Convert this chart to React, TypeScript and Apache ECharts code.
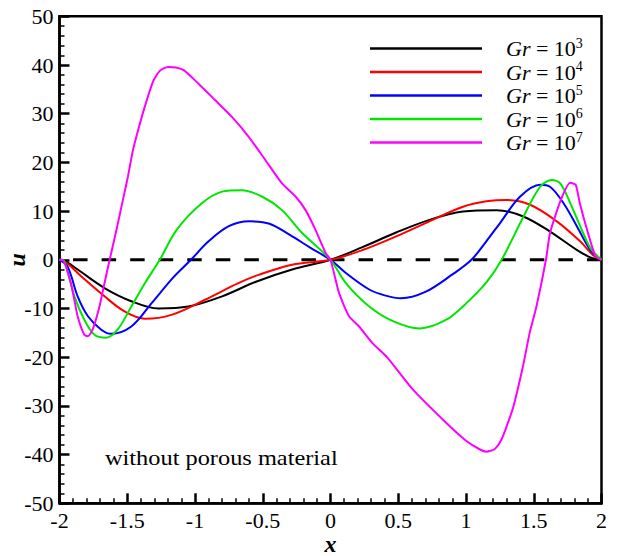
import React, { useEffect, useRef } from 'react';
import * as echarts from 'echarts';

// Gr = 10^3
const gr3X = [-2, -1.94, -1.866, -1.668, -1.47, -1.27, -1.05, -0.8, -0.55, -0.283, 0, 0.236, 0.484, 0.73, 0.978, 1.226, 1.423, 1.62, 1.82, 1.918, 2];
const gr3U = [0, -0.6, -2.0, -5.8, -8.5, -10.0, -9.6, -7.5, -4.5, -2.0, 0, 2.6, 5.6, 8.2, 9.9, 10.2, 8.9, 5.8, 2.0, 0.5, 0];
// Gr = 10^4
const gr4X = [-2, -1.94, -1.84, -1.668, -1.52, -1.37, -1.174, -0.926, -0.68, -0.531, -0.284, 0, 0.236, 0.484, 0.73, 0.978, 1.15, 1.3, 1.473, 1.67, 1.844, 1.94, 2];
const gr4U = [0, -0.8, -3.4, -7.5, -10.6, -12.1, -11.3, -8.2, -4.8, -3.1, -1.0, 0, 2.0, 4.8, 7.9, 10.9, 12.0, 12.3, 11.3, 7.9, 3.75, 0.9, 0];
// Gr = 10^5
const gr5X = [-2, -1.94, -1.866, -1.79, -1.694, -1.62, -1.47, -1.32, -1.16, -1.03, -0.9, -0.75, -0.6, -0.45, -0.3, -0.15, 0, 0.113, 0.286, 0.4, 0.52, 0.7, 0.9, 1.04, 1.15, 1.25, 1.4, 1.547, 1.62, 1.72, 1.82, 1.918, 2];
const gr5U = [0, -1.4, -7.5, -11.6, -14.3, -15.2, -13.7, -8.9, -3.6, 0, 3.8, 6.9, 7.9, 7.4, 5.1, 2.5, 0, -2.7, -6.1, -7.3, -7.9, -6.6, -3.0, 0, 3.8, 7.5, 13.0, 15.4, 15.0, 11.6, 6.8, 2.0, 0];
// Gr = 10^6
const gr6X = [-2, -1.965, -1.89, -1.817, -1.742, -1.656, -1.57, -1.47, -1.37, -1.26, -1.137, -0.95, -0.8, -0.655, -0.506, -0.358, -0.209, 0, 0.113, 0.286, 0.46, 0.657, 0.855, 1.003, 1.152, 1.263, 1.423, 1.547, 1.634, 1.696, 1.77, 1.844, 1.918, 2];
const gr6U = [0, -0.3, -7.5, -12.3, -15.4, -16.0, -14.3, -9.6, -4.8, 0, 6.1, 11.6, 14.0, 14.3, 13.0, 10.2, 5.5, 0, -4.8, -9.6, -12.6, -14.1, -12.3, -8.9, -4.6, 0, 8.8, 15.0, 16.4, 15.7, 11.6, 6.8, 2.4, 0];
// Gr = 10^7
const gr7X = [-2, -1.98, -1.916, -1.866, -1.817, -1.79, -1.755, -1.705, -1.668, -1.63, -1.58, -1.532, -1.495, -1.458, -1.42, -1.371, -1.31, -1.26, -1.2, -1.14, -1.08, -0.976, -0.852, -0.729, -0.605, -0.481, -0.358, -0.258, -0.184, -0.11, -0.036, 0, 0.063, 0.137, 0.211, 0.31, 0.42, 0.607, 0.855, 1.003, 1.1, 1.152, 1.21, 1.26, 1.3, 1.35, 1.42, 1.47, 1.52, 1.59, 1.62, 1.7, 1.77, 1.81, 1.84, 1.894, 1.956, 2];
const gr7U = [0, 0, -4.8, -11.6, -15.4, -15.7, -14.3, -9.6, -4.8, 0, 6.1, 12.3, 17.1, 22.5, 26.6, 31.4, 36.6, 38.8, 39.6, 39.5, 38.9, 36.2, 32.8, 29.4, 25.3, 20.5, 15.7, 13.0, 10.2, 6.1, 1.4, 0, -6.8, -11.6, -13.7, -17.1, -20.1, -26.6, -33.5, -37.2, -38.9, -39.4, -38.9, -37.0, -34.2, -30.1, -21.9, -15.0, -9.6, 0, 5.5, 12.3, 15.8, 15.4, 11.6, 6.1, 0.7, 0];

const zeroX = [-2, 2];
const zeroU = [0, 0];

const seriesNames = ['Gr = 10^3', 'Gr = 10^4', 'Gr = 10^5', 'Gr = 10^6', 'Gr = 10^7'];
const seriesX = [gr3X, gr4X, gr5X, gr6X, gr7X];
const seriesU = [gr3U, gr4U, gr5U, gr6U, gr7U];
const seriesColors = ['#000000', '#ff0000', '#0000ff', '#00e600', '#ff00ff'];
const seriesSmooth = [0.35, 0.35, 0.35, 0.3, 0.2];

const xTitle = 'x';
const yTitle = 'u';
const note = 'without porous material';

const FONT = "'Liberation Serif', 'Times New Roman', serif";

export default function App() {
  const ref = useRef<HTMLDivElement>(null);
  useEffect(() => {
    const chart = echarts.init(ref.current!, null, { renderer: 'svg' });
    const zip = (xs: number[], us: number[]) => xs.map((x, i) => [x, us[i]]);
    const lines = seriesNames.map((name, i) => ({
      name,
      type: 'line',
      data: zip(seriesX[i], seriesU[i]),
      symbol: 'none',
      showSymbol: false,
      smooth: seriesSmooth[i],
      lineStyle: { color: seriesColors[i], width: 2 },
      itemStyle: { color: seriesColors[i] },
      z: 3 + i,
    }));
    const axisCommon = {
      axisLine: { show: true, onZero: false, lineStyle: { color: '#000', width: 2.5 } },
      axisTick: { show: true, inside: true, length: 10, lineStyle: { color: '#000', width: 2.5 } },
      minorTick: { show: true, splitNumber: 5, length: 5, lineStyle: { color: '#000', width: 1.5 } },
      splitLine: { show: false },
      axisLabel: { fontFamily: FONT, fontSize: 22, color: '#000', margin: 6 },
      nameMoveOverlap: false,
    };
    chart.setOption({
      animation: false,
      backgroundColor: '#ffffff',
      textStyle: { fontFamily: FONT },
      grid: {
        left: 59.5,
        right: 19.5,
        top: 16.3,
        bottom: 52.7,
        containLabel: false,
        outerBoundsMode: 'none',
        show: true,
        borderColor: '#000',
        borderWidth: 2.5,
        backgroundColor: 'transparent',
      },
      legend: {
        orient: 'vertical',
        left: 365,
        top: 31,
        itemWidth: 112,
        itemHeight: 2.5,
        itemGap: 0,
        icon: 'rect',
        selectedMode: false,
        data: seriesNames,
        formatter: (name: string) => {
          const exp = name.split('^')[1];
          return `{g|Gr}{t| = 10}{s|${exp}}`;
        },
        textStyle: {
          fontFamily: FONT,
          color: '#000',
          rich: {
            g: { fontFamily: FONT, fontStyle: 'italic', fontSize: 22, lineHeight: 25, padding: [0, 0, 0, 19], color: '#000' },
            t: { fontFamily: FONT, fontSize: 22, lineHeight: 25, color: '#000' },
            s: { fontFamily: FONT, fontSize: 14, lineHeight: 14, verticalAlign: 'top', color: '#000' },
          },
        },
      },
      xAxis: {
        type: 'value',
        min: -2,
        max: 2,
        interval: 0.5,
        name: xTitle,
        nameLocation: 'middle',
        nameGap: 30,
        nameTextStyle: { fontFamily: FONT, fontStyle: 'italic', fontWeight: 'bold', fontSize: 24, lineHeight: 22, color: '#000' },
        ...axisCommon,
      },
      yAxis: {
        type: 'value',
        min: -50,
        max: 50,
        interval: 10,
        name: yTitle,
        nameLocation: 'middle',
        nameGap: 31,
        nameTextStyle: { fontFamily: FONT, fontStyle: 'italic', fontWeight: 'bold', fontSize: 24, color: '#000' },
        ...axisCommon,
      },
      graphic: [
        {
          type: 'text',
          x: 105,
          y: 448,
          scaleX: 1.16,
          style: { text: note, fontFamily: FONT, fontSize: 21, fill: '#000' },
        },
      ],
      series: [
        {
          name: 'zero',
          type: 'line',
          data: zip(zeroX, zeroU),
          symbol: 'none',
          lineStyle: { color: '#000', width: 3, type: [14.5, 14.05], dashOffset: 15.05 },
          z: 2,
        },
        ...lines,
      ],
    });
    return () => chart.dispose();
  }, []);
  return (
    <div
      ref={ref}
      style={{ position: 'fixed', left: 0, top: 0, width: 621, height: 556, background: '#fff' }}
    />
  );
}
